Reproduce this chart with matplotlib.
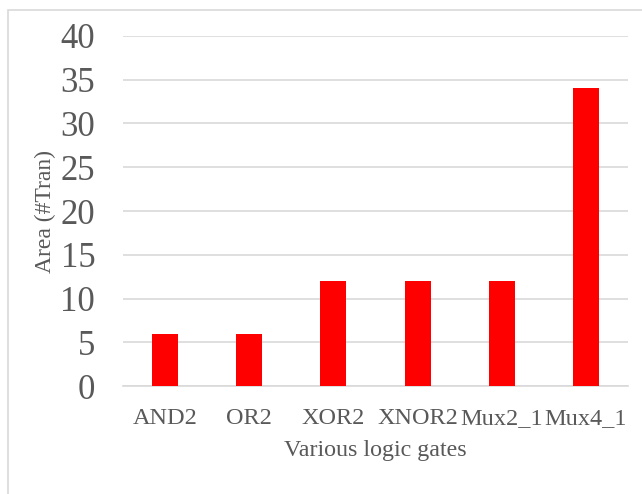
import matplotlib
matplotlib.use("Agg")
import matplotlib.pyplot as plt
from matplotlib.patches import Rectangle

# gates and their transistor counts
gates = ["AND2", "OR2", "XOR2", "XNOR2", "Mux2_1", "Mux4_1"]
area = [6, 6, 12, 12, 12, 34]

cinza_texto = "#595959"
cinza_grade = "#d9d9d9"

plt.rcParams["font.family"] = ["Liberation Serif", "DejaVu Serif"]

fig = plt.figure(figsize=(6.42, 4.94), dpi=100)
ax = fig.add_axes([123 / 642, 1 - 386 / 494, 505 / 642, 350 / 494])

x = range(len(gates))
ax.bar(x, area, width=0.31, color="#ff0000", zorder=3)

ax.set_xlim(-0.5, len(gates) - 0.5)
ax.set_ylim(0, 40)
ax.set_yticks(range(0, 41, 5))
ax.set_xticks(list(x))
ax.set_xticklabels(gates)

ax.yaxis.grid(True, color=cinza_grade, linewidth=1.2, zorder=0)
ax.xaxis.grid(False)
for lado in ["top", "right", "left"]:
    ax.spines[lado].set_visible(False)
ax.spines["bottom"].set_color(cinza_grade)
ax.spines["bottom"].set_linewidth(1.2)
ax.tick_params(axis="both", length=0, colors=cinza_texto)
ax.tick_params(axis="y", labelsize=25, pad=20)
ax.tick_params(axis="x", labelsize=17.5, pad=16)

ax.set_xlabel("Various logic gates", fontsize=17.3, color=cinza_texto, labelpad=8)
ax.set_ylabel("Area (#Tran)", fontsize=17, color=cinza_texto, labelpad=3)

# moldura do gráfico
fig.patches.append(Rectangle((8 / 642, -0.1), 1.2, 1 - 10 / 494 + 0.1,
                             transform=fig.transFigure, fill=False,
                             edgecolor=cinza_grade, linewidth=1.2))

fig.savefig("out.png", dpi=100)
